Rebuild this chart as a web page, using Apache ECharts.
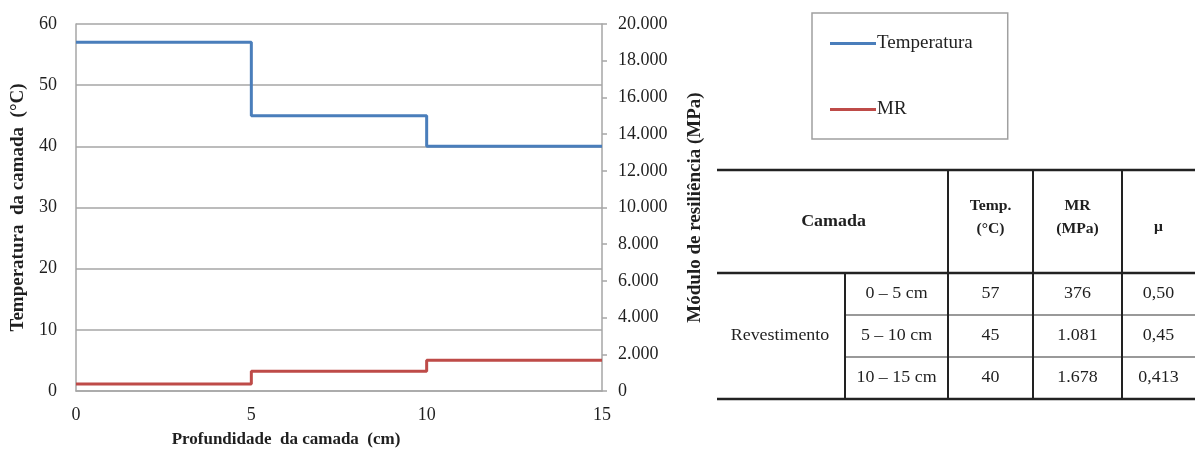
<!DOCTYPE html>
<html><head><meta charset="utf-8">
<script src="https://cdn.jsdelivr.net/npm/echarts@6/dist/echarts.min.js"></script>
<style>html,body{margin:0;padding:0;background:#fff}#c{width:1195px;height:455px}</style>
</head><body><div id="c"></div>
<script>
// ---- data ----
const depthBreaks = [0, 5, 10, 15];          // cm
const temperatura = [57, 45, 40];            // °C per layer
const mrValues = [376, 1081, 1678];          // MPa per layer
const muValues = ['0,50', '0,45', '0,413'];
const layerLabels = ['0 – 5 cm', '5 – 10 cm', '10 – 15 cm'];
const materialName = 'Revestimento';
const headerLabels = ['Camada', 'Temp.\n(°C)', 'MR\n(MPa)', 'μ'];
const seriesNames = ['Temperatura', 'MR'];

const FONT = '"Liberation Serif", "Times New Roman", serif';
const TXT = '#1f1f1f';
const GRID = '#a6a6a6';

function stepData(vals) {
  const d = vals.map((v, i) => [depthBreaks[i], v]);
  d.push([depthBreaks[depthBreaks.length - 1], vals[vals.length - 1]]);
  return d;
}
function fmtThousands(v) {
  return String(Math.round(v)).replace(/\B(?=(\d{3})+(?!\d))/g, '.');
}

// ---- table via graphic ----
const colX = [717, 845, 948, 1033, 1122, 1195];
const rowY = [170, 273, 315, 357, 399];
const g = [];
const dark = '#222';
function hline(y, x1, x2, w, c) { g.push({type:'line', shape:{x1:x1,y1:y,x2:x2,y2:y}, style:{stroke:c||dark, lineWidth:w}}); }
function vline(x, y1, y2, w, c) { g.push({type:'line', shape:{x1:x,y1:y1,x2:x,y2:y2}, style:{stroke:c||dark, lineWidth:w}}); }
function txt(s, x, y, bold, size) {
  g.push({type:'text', x:x, y:y, scaleX:1.12, style:{text:s, fill:TXT, font:(bold?'bold ':'')+(size||16)+'px '+FONT, align:'center', verticalAlign:'middle', lineHeight:23}});
}
hline(rowY[0], colX[0], colX[5], 2.5);
hline(rowY[1], colX[0], colX[5], 2.5);
hline(rowY[2], colX[1], colX[5], 1.5, '#777');
hline(rowY[3], colX[1], colX[5], 1.5, '#777');
hline(rowY[4], colX[0], colX[5], 2.5);
vline(colX[1], rowY[1], rowY[4], 2);
vline(colX[2], rowY[0], rowY[4], 2);
vline(colX[3], rowY[0], rowY[4], 2);
vline(colX[4], rowY[0], rowY[4], 2);
const hy = (rowY[0] + rowY[1]) / 2 + 2;
txt(headerLabels[0], (colX[0] + colX[2]) / 2 + 1, hy - 2, true, 16);
txt(headerLabels[1], (colX[2] + colX[3]) / 2, hy - 6, true, 14);
txt(headerLabels[2], (colX[3] + colX[4]) / 2, hy - 6, true, 14);
txt(headerLabels[3], (colX[4] + colX[5]) / 2, hy + 4, true, 14);
txt(materialName, (colX[0] + colX[1]) / 2 - 1, (rowY[1] + rowY[4]) / 2, false, 16);
for (let i = 0; i < layerLabels.length; i++) {
  const cy = (rowY[i + 1] + rowY[i + 2]) / 2;
  txt(layerLabels[i], (colX[1] + colX[2]) / 2, cy, false, 16);
  txt(String(temperatura[i]), (colX[2] + colX[3]) / 2, cy, false, 16);
  txt(fmtThousands(mrValues[i]), (colX[3] + colX[4]) / 2, cy, false, 16);
  txt(muValues[i], (colX[4] + colX[5]) / 2, cy, false, 16);
}

const chart = echarts.init(document.getElementById('c'), null, {renderer:'canvas'});
chart.setOption({
  animation: false,
  backgroundColor: '#fff',
  textStyle: {fontFamily: FONT},
  grid: {left: 76, right: 593, top: 24, bottom: 64, containLabel: false},
  legend: {
    orient: 'vertical', left: 812, top: 13,
    data: seriesNames,
    icon: 'rect', itemWidth: 46, itemHeight: 3, itemGap: 47,
    padding: [21, 35, 20, 18],
    borderColor: '#a0a0a0', borderWidth: 1.5,
    textStyle: {fontFamily: FONT, fontSize: 19, color: TXT, lineHeight: 18, padding: [0,0,0,-4]},
    selectedMode: false
  },
  xAxis: {
    type: 'value', min: 0, max: 15, interval: 5,
    name: 'Profundidade  da camada  (cm)', nameLocation: 'middle', nameGap: 40,
    nameTextStyle: {fontFamily: FONT, fontSize: 17, fontWeight: 'bold', color: TXT, padding: [0, 106, 0, 0]},
    axisLine: {show: true, lineStyle: {color: GRID, width: 1.5}},
    axisTick: {show: false},
    splitLine: {show: false},
    axisLabel: {fontFamily: FONT, fontSize: 18, color: TXT, margin: 15}
  },
  yAxis: [{
    type: 'value', min: 0, max: 60, interval: 10, position: 'left',
    name: 'Temperatura  da camada  (°C)', nameLocation: 'middle', nameGap: 48, nameRotate: 90,
    nameTextStyle: {fontFamily: FONT, fontSize: 19, fontWeight: 'bold', color: TXT},
    axisLine: {show: true, lineStyle: {color: GRID, width: 1.5}},
    axisTick: {show: false},
    splitLine: {show: true, lineStyle: {color: GRID, width: 1.5}},
    axisLabel: {fontFamily: FONT, fontSize: 18, color: TXT, margin: 19}
  }, {
    type: 'value', min: 0, max: 20000, interval: 2000, position: 'right',
    name: 'Módulo de resiliência (MPa)', nameLocation: 'middle', nameGap: 84, nameRotate: 90,
    nameTextStyle: {fontFamily: FONT, fontSize: 19, fontWeight: 'bold', color: TXT},
    axisLine: {show: true, lineStyle: {color: GRID, width: 1.5}},
    axisTick: {show: true, inside: false, length: 5, lineStyle: {color: GRID, width: 1.5}},
    splitLine: {show: false},
    axisLabel: {fontFamily: FONT, fontSize: 18, color: TXT, margin: 16, formatter: fmtThousands}
  }],
  series: [{
    name: seriesNames[0], type: 'line', step: 'end', yAxisIndex: 0,
    data: stepData(temperatura), showSymbol: false, symbol: 'none',
    lineStyle: {color: '#4a7ebb', width: 3}, itemStyle: {color: '#4a7ebb'}
  }, {
    name: seriesNames[1], type: 'line', step: 'end', yAxisIndex: 1,
    data: stepData(mrValues), showSymbol: false, symbol: 'none',
    lineStyle: {color: '#be4b48', width: 3}, itemStyle: {color: '#be4b48'}
  }],
  graphic: g
});
</script></body></html>
